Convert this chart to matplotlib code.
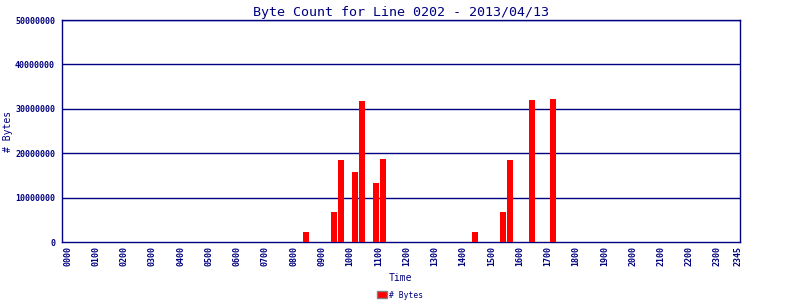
import numpy as np
import matplotlib.pyplot as plt
import matplotlib.transforms as mtransforms
from matplotlib.patches import Patch

# --- data: 15 minute slots, 0000 .. 2345 -----------------------------------
SLOTS = [f"{h:02d}{m:02d}" for h in range(24) for m in (0, 15, 30, 45)]
BAR_SLOTS = ["0830", "0930", "0945", "1015", "1030", "1100", "1115",
             "1430", "1530", "1545", "1630", "1715"]
BAR_BYTES = [2.3e6, 6.8e6, 18.5e6, 15.8e6, 31.8e6, 13.3e6, 18.7e6,
             2.3e6, 6.8e6, 18.5e6, 32.0e6, 32.2e6]
TICK_LABELS = [f"{h:02d}00" for h in range(24)] + ["2345"]
Y_TICKS = [0, 10000000, 20000000, 30000000, 40000000, 50000000]

NAVY = "#000080"
FONT = "DejaVu Sans Mono"

values = np.zeros(len(SLOTS))
for s, v in zip(BAR_SLOTS, BAR_BYTES):
    values[SLOTS.index(s)] = v

fig = plt.figure(figsize=(8, 3), dpi=100)
ax = fig.add_axes([62 / 800, 1 - 242 / 300, 678 / 800, 222 / 300])

ax.bar(np.arange(len(SLOTS)), values, width=0.85, color="#ff0000", zorder=3)

ax.set_xlim(-0.5, len(SLOTS) - 0.5)
ax.set_ylim(0, 50000000)

tick_pos = [SLOTS.index(t) for t in TICK_LABELS]
ax.set_xticks(tick_pos)
ax.set_xticklabels(TICK_LABELS, rotation=90, fontsize=6, family=FONT,
                   color=NAVY, fontweight="bold")
ax.set_yticks(Y_TICKS)
ax.set_yticklabels([str(v) for v in Y_TICKS], fontsize=6, family=FONT,
                   color=NAVY, fontweight="bold")
ax.tick_params(axis="both", length=0)
ax.tick_params(axis="x", pad=3)
ax.tick_params(axis="y", pad=5)

# labels in the original sit a couple of pixels right of the slot centre
shift = mtransforms.ScaledTranslation(2 / 100, 0, fig.dpi_scale_trans)
for lbl in ax.get_xticklabels():
    lbl.set_transform(lbl.get_transform() + shift)

for y in Y_TICKS[1:]:
    ax.axhline(y, color=NAVY, lw=1.0, zorder=1)
for sp in ax.spines.values():
    sp.set_color(NAVY)
    sp.set_linewidth(1.0)

ax.set_title("Byte Count for Line 0202 - 2013/04/13", family=FONT,
             fontsize=9.6, color=NAVY, pad=3)
fig.text(400 / 800, 1 - 278 / 300, "Time", family=FONT, fontsize=7,
         color=NAVY, ha="center", va="center")
fig.text(8 / 800, 1 - 131 / 300, "# Bytes", family=FONT, fontsize=7,
         color=NAVY, ha="center", va="center", rotation=90)

fig.legend(handles=[Patch(facecolor="#ff0000", edgecolor="#808080",
                          label="# Bytes")],
           loc="center", bbox_to_anchor=(400 / 800, 1 - 295 / 300),
           frameon=False, prop={"family": FONT, "size": 5.8},
           handlelength=1.2, handleheight=0.9, handletextpad=0.3,
           borderpad=0, labelcolor=NAVY)

fig.savefig("out.png", dpi=100)
